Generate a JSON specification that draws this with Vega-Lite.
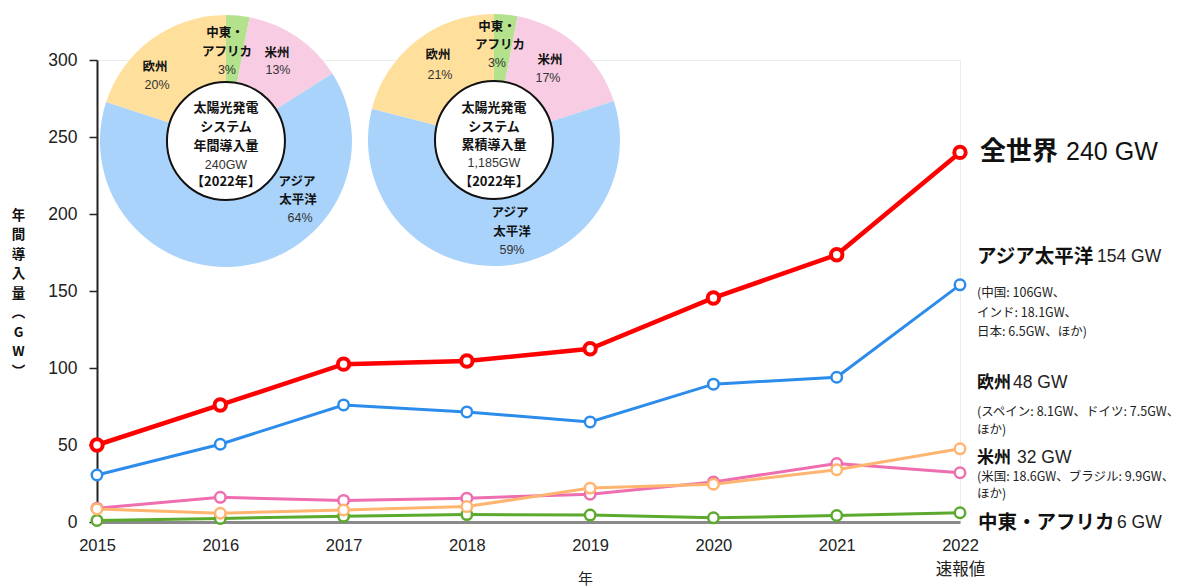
{
  "$schema": "https://vega.github.io/schema/vega-lite/v6.json",
  "width": 863,
  "height": 462,
  "autosize": {"type": "none"},
  "padding": {"left": 97, "top": 60, "right": 238, "bottom": 66},
  "background": "white",
  "config": {"view": {"stroke": "#ececec"}, "font": "Liberation Sans"},
  "datasets": {
    "series": [
      {"year": 2015, "series": "全世界", "gw": 50},
      {"year": 2016, "series": "全世界", "gw": 76},
      {"year": 2017, "series": "全世界", "gw": 102.5},
      {"year": 2018, "series": "全世界", "gw": 104.5},
      {"year": 2019, "series": "全世界", "gw": 112.5},
      {"year": 2020, "series": "全世界", "gw": 145.5},
      {"year": 2021, "series": "全世界", "gw": 173.5},
      {"year": 2022, "series": "全世界", "gw": 240},
      {"year": 2015, "series": "アジア太平洋", "gw": 30.5},
      {"year": 2016, "series": "アジア太平洋", "gw": 50.5},
      {"year": 2017, "series": "アジア太平洋", "gw": 76},
      {"year": 2018, "series": "アジア太平洋", "gw": 71.5},
      {"year": 2019, "series": "アジア太平洋", "gw": 65},
      {"year": 2020, "series": "アジア太平洋", "gw": 89.5},
      {"year": 2021, "series": "アジア太平洋", "gw": 94},
      {"year": 2022, "series": "アジア太平洋", "gw": 154},
      {"year": 2015, "series": "中東・アフリカ", "gw": 1},
      {"year": 2016, "series": "中東・アフリカ", "gw": 2.3},
      {"year": 2017, "series": "中東・アフリカ", "gw": 3.7},
      {"year": 2018, "series": "中東・アフリカ", "gw": 4.8},
      {"year": 2019, "series": "中東・アフリカ", "gw": 4.5},
      {"year": 2020, "series": "中東・アフリカ", "gw": 2.7},
      {"year": 2021, "series": "中東・アフリカ", "gw": 4.2},
      {"year": 2022, "series": "中東・アフリカ", "gw": 6},
      {"year": 2015, "series": "米州", "gw": 9},
      {"year": 2016, "series": "米州", "gw": 16},
      {"year": 2017, "series": "米州", "gw": 14},
      {"year": 2018, "series": "米州", "gw": 15.5},
      {"year": 2019, "series": "米州", "gw": 18},
      {"year": 2020, "series": "米州", "gw": 26},
      {"year": 2021, "series": "米州", "gw": 38},
      {"year": 2022, "series": "米州", "gw": 32},
      {"year": 2015, "series": "欧州", "gw": 8.5},
      {"year": 2016, "series": "欧州", "gw": 5.7},
      {"year": 2017, "series": "欧州", "gw": 7.8},
      {"year": 2018, "series": "欧州", "gw": 10},
      {"year": 2019, "series": "欧州", "gw": 22},
      {"year": 2020, "series": "欧州", "gw": 24.5},
      {"year": 2021, "series": "欧州", "gw": 34},
      {"year": 2022, "series": "欧州", "gw": 47.5}
    ],
    "pie1": [
      {"region": "中東・アフリカ", "pct": 3, "ord": 1},
      {"region": "米州", "pct": 13, "ord": 2},
      {"region": "アジア太平洋", "pct": 64, "ord": 3},
      {"region": "欧州", "pct": 20, "ord": 4}
    ],
    "pie2": [
      {"region": "中東・アフリカ", "pct": 3, "ord": 1},
      {"region": "米州", "pct": 17, "ord": 2},
      {"region": "アジア太平洋", "pct": 59, "ord": 3},
      {"region": "欧州", "pct": 21, "ord": 4}
    ],
    "pietext": [
      {"kind": "name", "text": "中東・", "x": 2016.038, "y": 317.5},
      {"kind": "name", "text": "アフリカ", "x": 2016.054, "y": 305.2},
      {"kind": "pct", "text": "3%", "x": 2016.054, "y": 293.5},
      {"kind": "name", "text": "米州", "x": 2016.46, "y": 304.5},
      {"kind": "pct", "text": "13%", "x": 2016.468, "y": 293.5},
      {"kind": "name", "text": "欧州", "x": 2015.47, "y": 295.4},
      {"kind": "pct", "text": "20%", "x": 2015.487, "y": 283.8},
      {"kind": "name", "text": "アジア", "x": 2016.622, "y": 220.8},
      {"kind": "name", "text": "太平洋", "x": 2016.63, "y": 209.1},
      {"kind": "pct", "text": "64%", "x": 2016.647, "y": 197.4},
      {"kind": "center", "text": "太陽光発電", "x": 2016.046, "y": 268.8},
      {"kind": "center", "text": "システム", "x": 2016.046, "y": 256.5},
      {"kind": "center", "text": "年間導入量", "x": 2016.046, "y": 244.2},
      {"kind": "num", "text": "240GW", "x": 2016.046, "y": 231.8},
      {"kind": "center", "text": "【2022年】", "x": 2016.046, "y": 220.8},
      {"kind": "name", "text": "中東・", "x": 2018.244, "y": 321.4},
      {"kind": "name", "text": "アフリカ", "x": 2018.269, "y": 309.7},
      {"kind": "pct", "text": "3%", "x": 2018.244, "y": 298.0},
      {"kind": "name", "text": "米州", "x": 2018.674, "y": 300.0},
      {"kind": "pct", "text": "17%", "x": 2018.658, "y": 288.3},
      {"kind": "name", "text": "欧州", "x": 2017.766, "y": 303.2},
      {"kind": "pct", "text": "21%", "x": 2017.782, "y": 290.3},
      {"kind": "name", "text": "アジア", "x": 2018.35, "y": 200.6},
      {"kind": "name", "text": "太平洋", "x": 2018.366, "y": 188.3},
      {"kind": "pct", "text": "59%", "x": 2018.366, "y": 176.6},
      {"kind": "center", "text": "太陽光発電", "x": 2018.22, "y": 268.8},
      {"kind": "center", "text": "システム", "x": 2018.22, "y": 256.5},
      {"kind": "center", "text": "累積導入量", "x": 2018.22, "y": 244.8},
      {"kind": "num", "text": "1,185GW", "x": 2018.22, "y": 233.1},
      {"kind": "center", "text": "【2022年】", "x": 2018.22, "y": 220.8}
    ],
    "notes": [
      {"kind": "big", "text": "全世界", "x": 2022.162, "y": 240.3},
      {"kind": "bigval", "text": "240 GW", "x": 2022.86, "y": 240.3},
      {"kind": "name2", "text": "アジア太平洋", "x": 2022.138, "y": 172.1},
      {"kind": "val", "text": "154 GW", "x": 2023.111, "y": 172.1},
      {"kind": "note", "text": "(中国: 106GW、", "x": 2022.138, "y": 148.7},
      {"kind": "note", "text": "インド: 18.1GW、", "x": 2022.138, "y": 135.7},
      {"kind": "note", "text": "日本: 6.5GW、ほか)", "x": 2022.138, "y": 123.4},
      {"kind": "name", "text": "欧州", "x": 2022.138, "y": 90.3},
      {"kind": "val", "text": "48 GW", "x": 2022.43, "y": 90.3},
      {"kind": "note", "text": "(スペイン: 8.1GW、ドイツ: 7.5GW、", "x": 2022.138, "y": 71.4},
      {"kind": "note", "text": "ほか)", "x": 2022.138, "y": 59.7},
      {"kind": "name", "text": "米州", "x": 2022.138, "y": 41.6},
      {"kind": "val", "text": "32 GW", "x": 2022.462, "y": 41.6},
      {"kind": "note", "text": "(米国: 18.6GW、ブラジル: 9.9GW、", "x": 2022.138, "y": 29.2},
      {"kind": "note", "text": "ほか)", "x": 2022.138, "y": 18.2},
      {"kind": "name2", "text": "中東・アフリカ", "x": 2022.146, "y": -0.6},
      {"kind": "val", "text": "6 GW", "x": 2023.273, "y": -0.6}
    ]
  },
  "resolve": {"scale": {"color": "independent"}},
  "layer": [
    {
      "data": {"name": "series"},
      "transform": [{"filter": "datum.series !== '全世界'"}],
      "mark": {"type": "line", "strokeWidth": 3, "point": {"filled": false, "fill": "white", "size": 110, "strokeWidth": 2.5}},
      "encoding": {
        "x": {
          "field": "year", "type": "quantitative",
          "scale": {"domain": [2015, 2022], "nice": false, "zero": false},
          "axis": {
            "values": [2015, 2016, 2017, 2018, 2019, 2020, 2021, 2022],
            "format": "d",
            "labelExpr": "datum.value == 2022 ? ['2022', '速報値'] : datum.label",
            "ticks": false, "grid": false,
            "domainColor": "#8a8a8a", "domainWidth": 3,
            "labelFont": "Liberation Sans, Noto Sans CJK JP", "labelFontSize": 16.5, "labelColor": "#222",
            "labelPadding": 15, "labelLineHeight": 24, "labelBaseline": "top", "labelFlush": false, "labelOverlap": false,
            "title": "年", "titleFont": "Noto Sans CJK JP", "titleFontSize": 15, "titleFontWeight": "normal",
            "titleColor": "#222", "titleX": 488, "titleY": 56, "titleBaseline": "middle", "titleAlign": "center"
          }
        },
        "y": {
          "field": "gw", "type": "quantitative",
          "scale": {"domain": [0, 300], "nice": false},
          "axis": {
            "values": [0, 50, 100, 150, 200, 250, 300],
            "grid": false, "domainColor": "#222", "domainWidth": 2, "tickColor": "#222", "tickWidth": 1.5, "tickSize": 8,
            "labelFont": "Liberation Sans", "labelFontSize": 17.5, "labelColor": "#222", "labelPadding": 12,
            "title": ["年", "間", "導", "入", "量", "︵", "G", "W", "︶"],
            "titleAngle": 0, "titleX": -79, "titleY": 148, "titleBaseline": "top", "titleAlign": "center",
            "titleFont": "Noto Sans CJK JP", "titleFontSize": 13.5, "titleFontWeight": "bold", "titleLineHeight": 19.5, "titleColor": "#111"
          }
        },
        "color": {
          "field": "series", "type": "nominal", "legend": null,
          "scale": {"domain": ["中東・アフリカ", "米州", "欧州", "アジア太平洋"], "range": ["#5BAA2E", "#EE6EB0", "#FFB570", "#2B8CEB"]}
        }
      }
    },
    {
      "data": {"name": "series"},
      "transform": [{"filter": "datum.series === '全世界'"}],
      "mark": {"type": "line", "strokeWidth": 4.5, "color": "#FF0000", "point": {"filled": false, "fill": "white", "stroke": "#FF0000", "size": 130, "strokeWidth": 4}},
      "encoding": {
        "x": {"field": "year", "type": "quantitative"},
        "y": {"field": "gw", "type": "quantitative"}
      }
    },
    {
      "data": {"name": "pie1"},
      "mark": {"type": "arc", "outerRadius": 126},
      "encoding": {
        "theta": {"field": "pct", "type": "quantitative", "stack": true},
        "order": {"field": "ord", "type": "quantitative"},
        "x": {"datum": 2016.046, "type": "quantitative"},
        "y": {"datum": 247.4, "type": "quantitative"},
        "color": {"field": "region", "type": "nominal", "legend": null,
          "scale": {"domain": ["中東・アフリカ", "米州", "アジア太平洋", "欧州"], "range": ["#B4E28C", "#F8CDE3", "#A9D3FB", "#FEE09C"]}}
      }
    },
    {
      "data": {"name": "pie2"},
      "mark": {"type": "arc", "outerRadius": 126},
      "encoding": {
        "theta": {"field": "pct", "type": "quantitative", "stack": true},
        "order": {"field": "ord", "type": "quantitative"},
        "x": {"datum": 2018.22, "type": "quantitative"},
        "y": {"datum": 248.05, "type": "quantitative"},
        "color": {"field": "region", "type": "nominal", "legend": null,
          "scale": {"domain": ["中東・アフリカ", "米州", "アジア太平洋", "欧州"], "range": ["#B4E28C", "#F8CDE3", "#A9D3FB", "#FEE09C"]}}
      }
    },
    {
      "data": {"values": [{"pie": "年間"}]},
      "mark": {"type": "point", "shape": "circle", "filled": true, "fill": "white", "stroke": "#111", "strokeWidth": 2, "size": 13924, "opacity": 1},
      "encoding": {
        "x": {"datum": 2016.046, "type": "quantitative"},
        "y": {"datum": 247.4, "type": "quantitative"}
      }
    },
    {
      "data": {"values": [{"pie": "累積"}]},
      "mark": {"type": "point", "shape": "circle", "filled": true, "fill": "white", "stroke": "#111", "strokeWidth": 2, "size": 13924, "opacity": 1},
      "encoding": {
        "x": {"datum": 2018.22, "type": "quantitative"},
        "y": {"datum": 248.05, "type": "quantitative"}
      }
    },
    {
      "data": {"name": "pietext"},
      "transform": [{"filter": "datum.kind === 'name'"}],
      "mark": {"type": "text", "font": "Noto Sans CJK JP", "fontSize": 12.5, "fontWeight": "bold", "color": "#111", "baseline": "middle", "align": "center"},
      "encoding": {
        "x": {"field": "x", "type": "quantitative"},
        "y": {"field": "y", "type": "quantitative"},
        "text": {"field": "text"}
      }
    },
    {
      "data": {"name": "pietext"},
      "transform": [{"filter": "datum.kind === 'center'"}],
      "mark": {"type": "text", "font": "Noto Sans CJK JP", "fontSize": 13, "fontWeight": "bold", "color": "#111", "baseline": "middle", "align": "center"},
      "encoding": {
        "x": {"field": "x", "type": "quantitative"},
        "y": {"field": "y", "type": "quantitative"},
        "text": {"field": "text"}
      }
    },
    {
      "data": {"name": "pietext"},
      "transform": [{"filter": "datum.kind === 'pct' || datum.kind === 'num'"}],
      "mark": {"type": "text", "font": "Liberation Sans", "fontSize": 12.5, "color": "#333", "baseline": "middle", "align": "center"},
      "encoding": {
        "x": {"field": "x", "type": "quantitative"},
        "y": {"field": "y", "type": "quantitative"},
        "text": {"field": "text"}
      }
    },
    {
      "data": {"name": "notes"},
      "transform": [{"filter": "datum.kind === 'big'"}],
      "mark": {"type": "text", "font": "Noto Sans CJK JP", "fontSize": 26, "fontWeight": "bold", "color": "#111", "baseline": "middle", "align": "left"},
      "encoding": {
        "x": {"field": "x", "type": "quantitative"},
        "y": {"field": "y", "type": "quantitative"},
        "text": {"field": "text"}
      }
    },
    {
      "data": {"name": "notes"},
      "transform": [{"filter": "datum.kind === 'bigval'"}],
      "mark": {"type": "text", "font": "Liberation Sans", "fontSize": 25, "color": "#111", "baseline": "middle", "align": "left"},
      "encoding": {
        "x": {"field": "x", "type": "quantitative"},
        "y": {"field": "y", "type": "quantitative"},
        "text": {"field": "text"}
      }
    },
    {
      "data": {"name": "notes"},
      "transform": [{"filter": "datum.kind === 'name'"}],
      "mark": {"type": "text", "font": "Noto Sans CJK JP", "fontSize": 17, "fontWeight": "bold", "color": "#111", "baseline": "middle", "align": "left"},
      "encoding": {
        "x": {"field": "x", "type": "quantitative"},
        "y": {"field": "y", "type": "quantitative"},
        "text": {"field": "text"}
      }
    },
    {
      "data": {"name": "notes"},
      "transform": [{"filter": "datum.kind === 'name2'"}],
      "mark": {"type": "text", "font": "Noto Sans CJK JP", "fontSize": 19.5, "fontWeight": "bold", "color": "#111", "baseline": "middle", "align": "left"},
      "encoding": {
        "x": {"field": "x", "type": "quantitative"},
        "y": {"field": "y", "type": "quantitative"},
        "text": {"field": "text"}
      }
    },
    {
      "data": {"name": "notes"},
      "transform": [{"filter": "datum.kind === 'val'"}],
      "mark": {"type": "text", "font": "Liberation Sans", "fontSize": 17.5, "color": "#222", "baseline": "middle", "align": "left"},
      "encoding": {
        "x": {"field": "x", "type": "quantitative"},
        "y": {"field": "y", "type": "quantitative"},
        "text": {"field": "text"}
      }
    },
    {
      "data": {"name": "notes"},
      "transform": [{"filter": "datum.kind === 'note'"}],
      "mark": {"type": "text", "font": "Noto Sans CJK JP", "fontSize": 12.5, "color": "#222", "baseline": "middle", "align": "left"},
      "encoding": {
        "x": {"field": "x", "type": "quantitative"},
        "y": {"field": "y", "type": "quantitative"},
        "text": {"field": "text"}
      }
    }
  ]
}
